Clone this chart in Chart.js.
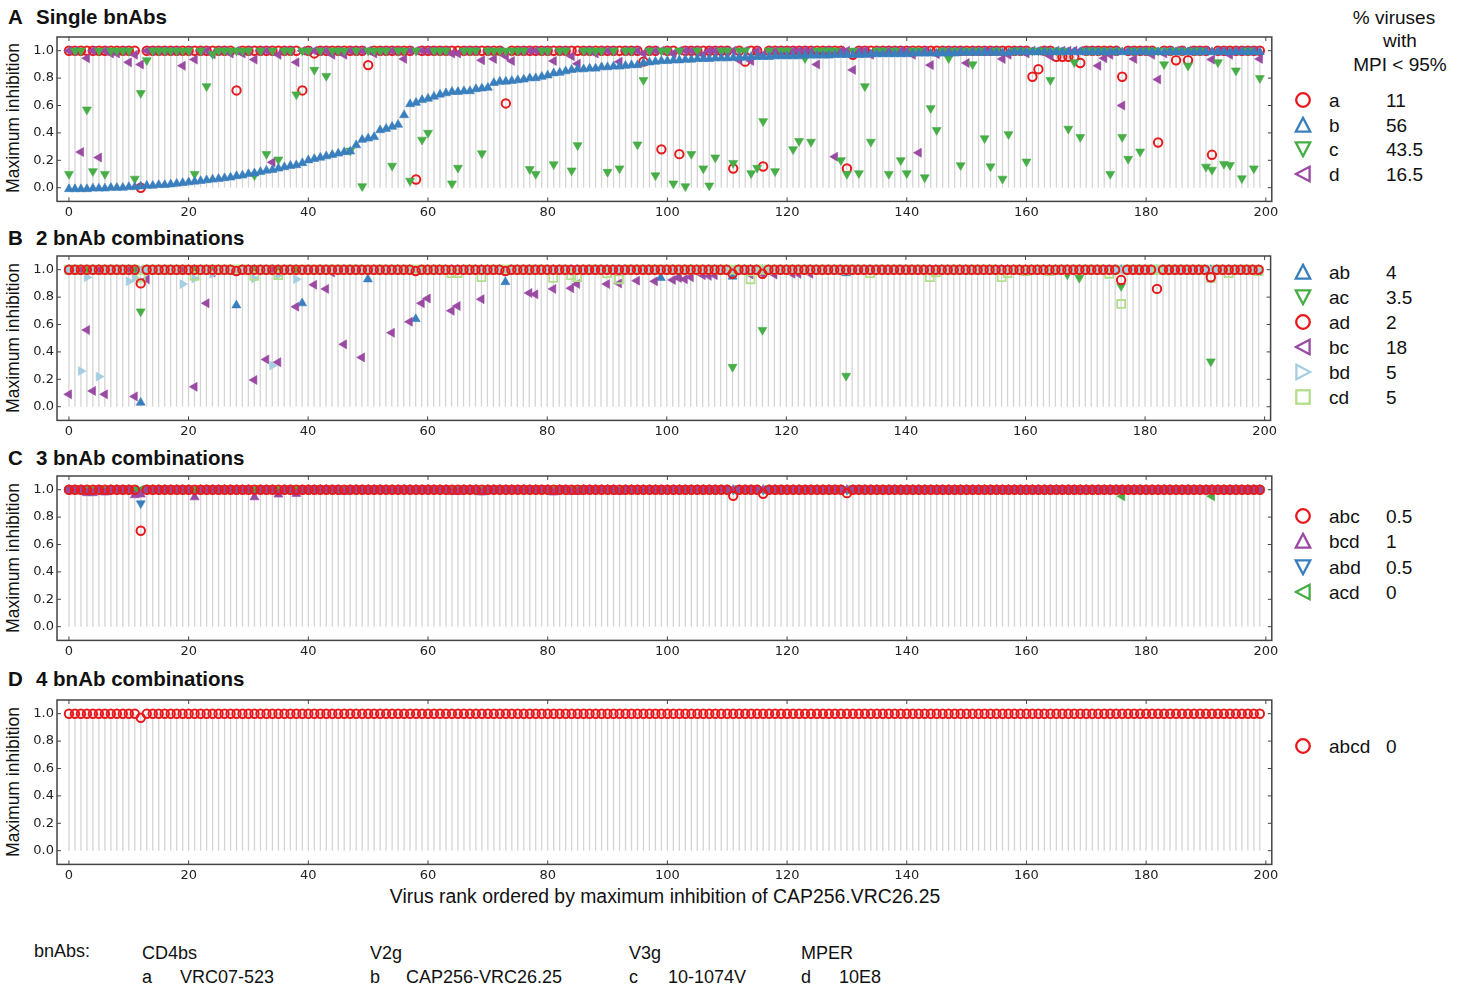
<!DOCTYPE html>
<html><head><meta charset="utf-8">
<script src="https://cdn.jsdelivr.net/npm/chart.js@4.4.1/dist/chart.umd.min.js"></script>
<style>
html,body{margin:0;padding:0;background:#fff;}
body{width:1465px;height:987px;position:relative;overflow:hidden;font-family:"Liberation Sans",Arial,sans-serif;color:#111;}
canvas{position:absolute;left:0;}
.t{position:absolute;white-space:nowrap;line-height:1;}
.ptitle{font-weight:bold;font-size:20.5px;transform:translateY(-50%);}
.ytitle{font-size:17.5px;transform:translate(-50%,-50%) rotate(-90deg);}
.leg{font-size:19px;transform:translateY(-50%);}
.foot{font-size:18px;transform:translateY(-50%);}
</style></head><body>
<div class="t ptitle" style="left:8px;top:17px">A</div><div class="t ptitle" style="left:36px;top:17px">Single bnAbs</div>
<div class="t ptitle" style="left:8px;top:238px">B</div><div class="t ptitle" style="left:36px;top:238px">2 bnAb combinations</div>
<div class="t ptitle" style="left:8px;top:458px">C</div><div class="t ptitle" style="left:36px;top:458px">3 bnAb combinations</div>
<div class="t ptitle" style="left:8px;top:679px">D</div><div class="t ptitle" style="left:36px;top:679px">4 bnAb combinations</div>
<div class="t ytitle" style="left:14px;top:118px">Maximum inhibition</div>
<div class="t ytitle" style="left:14px;top:338px">Maximum inhibition</div>
<div class="t ytitle" style="left:14px;top:558px">Maximum inhibition</div>
<div class="t ytitle" style="left:14px;top:782px">Maximum inhibition</div>
<div class="t leg" style="left:1394px;top:17px;transform:translate(-50%,-50%)">% viruses</div>
<div class="t leg" style="left:1400px;top:40px;transform:translate(-50%,-50%)">with</div>
<div class="t leg" style="left:1400px;top:64px;transform:translate(-50%,-50%)">MPI &lt; 95%</div>
<div class="t leg" style="left:665px;top:897px;transform:translate(-50%,-50%);font-size:19.4px">Virus rank ordered by maximum inhibition of CAP256.VRC26.25</div>
<div class="t foot" style="left:34px;top:951px">bnAbs:</div>
<div class="t foot" style="left:142px;top:953px">CD4bs</div>
<div class="t foot" style="left:370px;top:953px">V2g</div>
<div class="t foot" style="left:629px;top:953px">V3g</div>
<div class="t foot" style="left:801px;top:953px">MPER</div>
<div class="t foot" style="left:142px;top:977px">a</div><div class="t foot" style="left:180px;top:977px">VRC07-523</div>
<div class="t foot" style="left:370px;top:977px">b</div><div class="t foot" style="left:406px;top:977px">CAP256-VRC26.25</div>
<div class="t foot" style="left:629px;top:977px">c</div><div class="t foot" style="left:668px;top:977px">10-1074V</div>
<div class="t foot" style="left:801px;top:977px">d</div><div class="t foot" style="left:839px;top:977px">10E8</div>
<canvas id="cA" width="1278" height="200" style="top:29px"></canvas>
<canvas id="cB" width="1278" height="200" style="top:248.3px"></canvas>
<canvas id="cC" width="1278" height="200" style="top:468.3px"></canvas>
<canvas id="cD" width="1278" height="200" style="top:692.3px"></canvas>
<div id="legends"></div>
<script>
// ---------- DATA ----------
const ranks = Array.from({length:200},(_,i)=>i);   // virus rank (category axis)
const xTicks = [0,20,40,60,80,100,120,140,160,180,200];
const yTicks = [0,0.2,0.4,0.6,0.8,1.0];

// Panel A: single bnAbs
const A_a = [
1,1,1,1,1,1,1,1,1,1, 1,1,0,1,1,1,1,1,1,1,
1,1,1,1,1,1,1,1,0.71,1, 1,1,1,1,1,1,1,1,1,0.71,
1,0.98,1,1,1,1,1,1,1,1, 0.895,1,1,1,1,1,1,1,0.06,1,
1,1,1,1,1,1,1,1,1,1, 1,1,1,0.615,1,1,1,1,1,1,
1,1,1,1,1,1,1,1,1,1, 1,1,1,1,1,1,0.92,1,1,0.28,
1,1,0.245,1,1,1,1,1,1,1, 1,0.14,1,0.92,1,1,0.155,1,1,1,
1,1,1,1,1,1,1,1,1,1, 0.14,0.97,1,1,1,1,1,1,1,1,
1,1,1,1,1,1,1,1,1,1, 1,1,1,1,1,1,1,1,1,1,
1,0.81,0.865,1,1,0.955,0.955,0.955,0.955,0.91, 1,1,1,1,1,1,0.81,1,1,1,
1,1,0.33,1,1,0.93,1,0.93,1,1, 1,0.24,1,1,1,1,1,1,1,1];
const A_b = [
-0.01,-0.01,-0.01,-0.01,-0.005,-0.005,-0.005,0,0,0, 0.005,0.005,0.01,0.015,0.015,0.02,0.02,0.025,0.03,0.035,
0.04,0.045,0.05,0.055,0.06,0.065,0.07,0.075,0.085,0.09, 0.1,0.105,0.115,0.125,0.13,0.14,0.15,0.16,0.165,0.18,
0.2,0.21,0.22,0.23,0.24,0.25,0.26,0.265,0.31,0.35, 0.36,0.37,0.42,0.43,0.445,0.46,0.53,0.61,0.62,0.64,
0.65,0.665,0.68,0.69,0.7,0.7,0.705,0.705,0.72,0.725, 0.73,0.765,0.775,0.775,0.78,0.785,0.79,0.8,0.8,0.81,
0.82,0.835,0.84,0.85,0.86,0.865,0.865,0.87,0.87,0.88, 0.88,0.885,0.885,0.89,0.895,0.895,0.91,0.915,0.92,0.925,
0.925,0.93,0.93,0.935,0.935,0.94,0.94,0.94,0.945,0.945, 0.945,0.948,0.95,0.95,0.955,0.955,0.955,0.955,0.96,0.96,
0.96,0.96,0.96,0.965,0.965,0.965,0.965,0.965,0.97,0.97, 0.97,0.97,0.97,0.97,0.975,0.975,0.975,0.975,0.975,0.975,
0.975,0.98,0.98,0.98,0.98,0.98,0.98,0.98,0.98,0.985, 0.985,0.985,0.985,0.985,0.985,0.985,0.985,0.985,0.99,0.99,
0.99,0.99,0.99,0.99,0.99,0.99,0.99,0.99,0.99,0.99, 0.99,0.99,0.99,0.99,0.99,0.99,0.99,0.99,0.99,0.99,
0.99,0.99,0.99,0.99,0.99,0.99,0.99,0.99,0.99,0.99, 0.99,0.99,0.99,0.99,0.99,0.99,0.99,0.99,0.99,0.99];
const A_c = [
0.1,1,1,0.57,0.12,1,0.1,1,1,1, 1,0.065,0.69,0.93,1,1,1,1,1,1,
1,0.1,1,0.74,0.975,1,1,1,1,1, 1,0.09,1,0.245,1,0.205,1,1,0.68,1,
1,0.86,1,0.815,1,1,1,0.27,1,0.01, 1,1,1,1,0.16,1,1,0.05,1,0.35,
0.4,1,1,1,0.03,0.145,1,1,1,0.25, 1,1,1,1,1,1,1,0.135,0.1,1,
1,0.17,1,1,0.125,0.31,1,1,1,1, 0.115,1,0.14,1,1,0.315,0.785,1,0.09,1,
1,0.03,1,0.01,0.245,1,0.14,0.015,0.22,1, 1,0.18,1,1,0.105,0.145,0.485,1,0.12,1,
1,0.28,0.34,0.945,0.335,1,1,1,1,0.2, 0.1,1,0.105,0.74,0.335,1,1,0.1,1,0.2,
0.105,1,1,0.075,0.58,0.42,1,0.945,1,0.163, 1,0.9,1,0.36,0.155,1,0.065,0.39,1,1,
0.19,1,1,1,0.785,1,1,0.43,0.915,0.37, 1,1,1,1,0.1,1,0.37,0.21,1,0.263,
1,1,1,0.9,1,1,1,0.89,1,1, 0.153,0.13,0.915,0.173,0.165,0.855,0.068,1,0.14,0.8];
const A_d = [
1,1,0.26,0.945,1,0.22,1,0.98,0.98,1, 0.915,0.97,0.9,1,1,1,1,1,1,0.89,
1,0.935,1,1,0.975,1,1,0.98,1,0.98, 1,0.935,1,1,0.185,0.97,1,1,0.915,1,
1,1,1,1,0.97,1,0.97,1,1,1, 1,0.98,1,1,1,1,0.94,1,1,1,
1,1,1,1,0.98,0.98,1,1,1,0.93, 1,0.94,1,0.96,0.925,1,1,1,1,1,
1,0.925,1,1,0.96,0.905,1,1,0.98,1, 1,1,0.92,1,1,1,0.98,1,1,1,
1,0.98,1,1,1,1,0.97,1,1,1, 1,1,0.93,1,0.925,1,0.97,1,1,1,
1,1,1,1,1,0.9,1,1,0.226,1, 1,0.86,1,1,0.97,1,1,1,1,1,
1,0.97,0.255,1,0.895,0.975,1,1,1,1, 0.91,1,1,1,1,1,0.94,0.97,1,1,
0.98,1,1,1,0.96,1,1,1,1,1, 1,1,0.89,0.945,0.97,1,0.6,1,0.94,1,
1,0.97,0.79,0.98,1,1,1,1,1,1, 1,0.935,1,1,0.97,1,1,1,1,0.94];

// Panel B: 2 bnAb combinations
const B_ab = [
1,1,1,1,1,1,1,1,1,1, 1,1,0.03,1,1,1,1,1,1,1,
1,1,1,1,1,1,1,1,0.74,1, 1,1,1,1,1,1,1,1,1,0.755,
1,0.99,1,1,1,1,1,1,1,1, 0.93,1,1,1,1,1,1,1,0.64,1,
1,1,1,1,1,1,1,1,1,1, 1,1,1,0.91,1,1,1,1,1,1,
1,1,1,1,1,1,1,1,1,1, 1,1,1,1,1,1,1,1,1,0.94,
1,1,0.945,1,1,1,1,1,1,1, 1,0.95,1,1,1,1,1,1,1,1,
1,1,1,1,1,1,1,1,1,1, 0.975,1,1,1,1,1,1,1,1,1,
1,1,1,1,1,1,1,1,1,1, 1,1,1,1,1,1,1,1,1,1,
1,1,1,1,1,1,1,1,1,1, 1,1,1,1,1,1,1,1,1,1,
1,1,1,1,1,1,1,1,1,1, 1,1,1,1,1,1,1,1,1,1];
const B_ac = [
1,1,1,1,1,1,1,1,1,1, 1,1,0.695,1,1,1,1,1,1,1,
1,1,1,1,1,1,1,1,1,1, 1,1,1,1,1,1,1,1,1,1,
1,1,1,1,1,1,1,1,1,1, 1,1,1,1,1,1,1,1,1,1,
1,1,1,1,1,1,1,1,1,1, 1,1,1,1,1,1,1,1,1,1,
1,1,1,1,1,1,1,1,1,1, 1,1,1,1,1,1,1,1,1,1,
1,1,1,1,1,1,1,1,1,1, 1,0.29,1,1,1,1,0.56,1,1,1,
1,1,1,1,1,1,1,1,1,1, 0.225,1,1,1,1,1,1,1,1,1,
1,1,1,1,1,1,1,1,1,1, 1,1,1,1,1,1,1,1,1,1,
1,1,1,1,1,1,1,0.965,1,0.94, 1,1,1,1,1,1,0.88,1,1,1,
1,1,1,1,1,1,1,1,1,1, 1,0.33,1,1,1,1,1,1,1,1];
const B_ad = [
1,1,1,1,1,1,1,1,1,1, 1,1,0.9,1,1,1,1,1,1,1,
1,1,1,1,1,1,1,1,0.99,1, 1,1,1,1,1,1,1,1,1,1,
1,1,1,1,1,1,1,1,1,1, 1,1,1,1,1,1,1,1,0.99,1,
1,1,1,1,1,1,1,1,1,1, 1,1,1,0.99,1,1,1,1,1,1,
1,1,1,1,1,1,1,1,1,1, 1,1,1,1,1,1,1,1,1,1,
1,1,1,1,1,1,1,1,1,1, 1,0.97,1,1,1,1,0.97,1,1,1,
1,1,1,1,1,1,1,1,1,1, 1,1,1,1,1,1,1,1,1,1,
1,1,1,1,1,1,1,1,1,1, 1,1,1,1,1,1,1,1,1,1,
1,1,1,1,1,1,1,1,1,1, 1,1,1,1,1,1,0.925,1,1,1,
1,1,0.86,1,1,1,1,1,1,1, 1,0.945,1,1,1,1,1,1,1,1];
const B_bc = [
0.09,1,1,0.56,0.115,1,0.09,1,1,1, 1,0.075,1,0.93,1,1,1,1,1,1,
1,0.145,1,0.755,0.98,1,1,1,1,1, 1,0.195,1,0.345,1,0.325,1,1,0.73,1,
1,0.89,1,0.86,0.98,1,0.455,1,1,0.36, 1,1,1,1,0.54,1,1,0.62,1,0.755,
0.79,1,1,1,0.7,0.735,1,1,1,0.785, 1,1,1,1,1,1,1,0.83,0.82,1,
1,0.86,1,1,0.865,0.895,1,1,1,1, 0.895,1,0.9,1,1,0.92,1,1,0.915,1,
1,0.925,0.94,0.93,0.945,1,0.96,0.955,0.96,1, 1,1,1,1,0.965,1,0.97,1,0.965,1,
1,0.97,0.97,1,0.97,1,1,1,1,1, 1,1,1,1,1,1,1,1,1,1,
1,1,1,1,1,1,1,1,1,1, 1,1,1,1,1,1,1,1,1,1,
1,1,1,1,1,1,1,1,1,1, 1,1,1,1,1,1,1,1,1,1,
1,1,1,1,1,1,1,1,1,1, 1,1,1,1,1,1,1,1,1,1];
const B_bd = [
1,1,0.26,0.945,1,0.22,1,1,1,1, 0.915,0.94,1,1,1,1,1,1,1,0.895,
1,0.935,1,1,0.97,1,1,1,1,1, 1,0.935,1,1,0.3,0.96,1,1,0.93,1,
1,1,1,1,1,1,1,1,1,1, 1,1,1,1,1,1,1,1,1,1,
1,1,1,1,1,1,1,1,1,1, 1,1,1,1,1,1,1,1,1,1,
1,1,1,1,1,1,1,1,1,1, 1,1,1,1,1,1,1,1,1,1,
1,1,1,1,1,1,1,1,1,1, 1,1,1,1,1,1,1,1,1,1,
1,1,1,1,1,1,1,1,1,1, 1,1,1,1,1,1,1,1,1,1,
1,1,1,1,1,1,1,1,1,1, 1,1,1,1,1,1,1,1,1,1,
1,1,1,1,1,1,1,1,1,1, 1,1,1,1,1,1,1,1,1,1,
1,1,1,1,1,1,1,1,1,1, 1,1,1,1,1,1,1,1,1,1];
const B_cd = [
1,1,1,1,1,1,1,1,1,1, 1,1,0.94,1,1,1,1,1,1,1,
1,0.955,1,1,1,1,1,1,1,1, 1,0.955,1,1,1,0.96,1,1,1,1,
1,1,1,1,1,1,1,1,1,1, 1,1,1,1,1,1,1,1,1,1,
1,1,1,1,0.975,0.975,1,1,1,0.945, 1,1,1,1,1,1,1,1,1,1,
1,0.94,1,1,0.96,0.945,1,1,1,1, 0.975,1,0.93,1,1,1,1,1,1,1,
1,1,1,1,1,1,1,1,1,1, 1,1,1,1,0.93,1,1,1,1,1,
1,1,1,1,1,1,1,1,1,1, 1,1,1,1,0.975,1,1,1,1,1,
1,1,1,1,0.945,0.98,1,1,1,1, 1,1,1,1,1,1,0.945,0.975,1,1,
0.99,1,1,1,0.99,1,1,1,1,1, 1,1,1,1,0.97,1,0.75,1,1,1,
1,1,1,1,1,1,1,1,1,1, 1,0.94,1,1,0.975,1,1,1,1,0.99];

// Panel C: 3 bnAb combinations
const C_abc = [
1,1,1,1,1,1,1,1,1,1, 1,1,0.7,1,1,1,1,1,1,1,
1,1,1,1,1,1,1,1,1,1, 1,1,1,1,1,1,1,1,1,1,
1,1,1,1,1,1,1,1,1,1, 1,1,1,1,1,1,1,1,1,1,
1,1,1,1,1,1,1,1,1,1, 1,1,1,1,1,1,1,1,1,1,
1,1,1,1,1,1,1,1,1,1, 1,1,1,1,1,1,1,1,1,1,
1,1,1,1,1,1,1,1,1,1, 1,0.955,1,1,1,1,0.97,1,1,1,
1,1,1,1,1,1,1,1,1,1, 0.975,1,1,1,1,1,1,1,1,1,
1,1,1,1,1,1,1,1,1,1, 1,1,1,1,1,1,1,1,1,1,
1,1,1,1,1,1,1,1,1,1, 1,1,1,1,1,1,1,1,1,1,
1,1,1,1,1,1,1,1,1,1, 1,1,1,1,1,1,1,1,1,1];
const C_bcd = [
1,1,1,0.975,0.975,1,0.98,1,1,1, 1,0.96,0.965,1,1,1,1,1,1,1,
1,0.945,1,1,1,1,1,1,1,1, 1,0.945,1,1,1,0.965,1,1,0.97,1,
1,1,1,1,1,1,0.985,1,1,1, 1,1,1,1,1,1,1,1,1,1,
1,1,1,1,0.985,0.985,1,1,1,0.98, 1,1,1,1,1,1,1,1,1,1,
1,0.98,1,1,0.985,0.985,1,1,1,1, 1,1,0.985,1,1,1,1,1,1,1,
1,1,1,1,1,1,1,1,1,1, 1,1,1,1,1,1,1,1,1,1,
1,1,1,1,1,1,1,1,1,1, 1,1,1,1,1,1,1,1,1,1,
1,1,1,1,1,1,1,1,1,1, 1,1,1,1,1,1,1,1,1,1,
1,1,1,1,1,1,1,1,1,1, 1,1,1,1,1,1,1,1,1,1,
1,1,1,1,1,1,1,1,1,1, 1,1,1,1,1,1,1,1,1,1];
const C_abd = [
1,1,1,1,1,1,1,1,1,1, 1,1,0.9,1,1,1,1,1,1,1,
1,1,1,1,1,1,1,1,1,1, 1,1,1,1,1,1,1,1,1,1,
1,1,1,1,1,1,1,1,1,1, 1,1,1,1,1,1,1,1,1,1,
1,1,1,1,1,1,1,1,1,1, 1,1,1,1,1,1,1,1,1,1,
1,1,1,1,1,1,1,1,1,1, 1,1,1,1,1,1,1,1,1,1,
1,1,1,1,1,1,1,1,1,1, 1,1,1,1,1,1,1,1,1,1,
1,1,1,1,1,1,1,1,1,1, 1,1,1,1,1,1,1,1,1,1,
1,1,1,1,1,1,1,1,1,1, 1,1,1,1,1,1,1,1,1,1,
1,1,1,1,1,1,1,1,1,1, 1,1,1,1,1,1,1,1,1,1,
1,1,1,1,1,1,1,1,1,1, 1,1,1,1,1,1,1,1,1,1];
const C_acd = [
1,1,1,1,1,1,1,1,1,1, 1,1,1,1,1,1,1,1,1,1,
1,1,1,1,1,1,1,1,1,1, 1,1,1,1,1,1,1,1,1,1,
1,1,1,1,1,1,1,1,1,1, 1,1,1,1,1,1,1,1,1,1,
1,1,1,1,1,1,1,1,1,1, 1,1,1,1,1,1,1,1,1,1,
1,1,1,1,1,1,1,1,1,1, 1,1,1,1,1,1,1,1,1,1,
1,1,1,1,1,1,1,1,1,1, 1,1,1,1,1,1,1,1,1,1,
1,1,1,1,1,1,1,1,1,1, 1,1,1,1,1,1,1,1,1,1,
1,1,1,1,1,1,1,1,1,1, 1,1,1,1,1,1,1,1,1,1,
1,1,1,1,1,1,1,1,1,1, 1,1,1,1,1,1,0.952,1,1,1,
1,1,1,1,1,1,1,1,1,1, 1,0.952,1,1,1,1,1,1,1,1];

// Panel D: 4 bnAb combination
const D_abcd = [
1,1,1,1,1,1,1,1,1,1, 1,1,0.97,1,1,1,1,1,1,1,
1,1,1,1,1,1,1,1,1,1, 1,1,1,1,1,1,1,1,1,1,
1,1,1,1,1,1,1,1,1,1, 1,1,1,1,1,1,1,1,1,1,
1,1,1,1,1,1,1,1,1,1, 1,1,1,1,1,1,1,1,1,1,
1,1,1,1,1,1,1,1,1,1, 1,1,1,1,1,1,1,1,1,1,
1,1,1,1,1,1,1,1,1,1, 1,1,1,1,1,1,1,1,1,1,
1,1,1,1,1,1,1,1,1,1, 1,1,1,1,1,1,1,1,1,1,
1,1,1,1,1,1,1,1,1,1, 1,1,1,1,1,1,1,1,1,1,
1,1,1,1,1,1,1,1,1,1, 1,1,1,1,1,1,1,1,1,1,
1,1,1,1,1,1,1,1,1,1, 1,1,1,1,1,1,1,1,1,1];

// legend labels and "% viruses with MPI < 95%" values
const legA_labels = ['a','b','c','d'];          const legA_pct = ['11','56','43.5','16.5'];
const legB_labels = ['ab','ac','ad','bc','bd','cd']; const legB_pct = ['4','3.5','2','18','5','5'];
const legC_labels = ['abc','bcd','abd','acd'];  const legC_pct = ['0.5','1','0.5','0'];
const legD_labels = ['abcd'];                   const legD_pct = ['0'];

// ---------- STYLE ----------
const COL = {red:'#e8191c', blue:'#3a7fbd', green:'#47ad46', purple:'#9a4aa3', lblue:'#a6cee3', lgreen:'#b2df8a'};
const TR = 5.2;
const SHAPES = {
  circle:(c)=>({pointStyle:'circle',pointRadius:4.2,pointBorderWidth:2,pointBorderColor:c,pointBackgroundColor:'rgba(255,255,255,0)'}),
  up:(c)=>({pointStyle:'triangle',pointRotation:0,pointRadius:TR,pointBorderWidth:0.6,pointBorderColor:c,pointBackgroundColor:c}),
  down:(c)=>({pointStyle:'triangle',pointRotation:180,pointRadius:TR,pointBorderWidth:0.6,pointBorderColor:c,pointBackgroundColor:c}),
  left:(c)=>({pointStyle:'triangle',pointRotation:-90,pointRadius:TR,pointBorderWidth:0.6,pointBorderColor:c,pointBackgroundColor:c}),
  right:(c)=>({pointStyle:'triangle',pointRotation:90,pointRadius:TR,pointBorderWidth:0.6,pointBorderColor:c,pointBackgroundColor:c}),
  square:(c)=>({pointStyle:'rect',pointRadius:5.6,pointBorderWidth:1.8,pointBorderColor:c,pointBackgroundColor:'rgba(255,255,255,0)'})
};
function ds(label, arr, shape, color, order){
  return Object.assign({label, order, showLine:false, data: ranks.map((r,i)=>({x:r,y:arr[i]}))}, SHAPES[shape](color));
}

const decor = {
  id:'decor',
  beforeDatasetsDraw(chart){
    const {ctx, scales:{x,y}} = chart;
    const y0=y.getPixelForValue(0), y1=y.getPixelForValue(1);
    ctx.save(); ctx.strokeStyle='#d4d4d4'; ctx.lineWidth=1.3;
    ranks.forEach(r=>{const px=x.getPixelForValue(r); ctx.beginPath(); ctx.moveTo(px,y0); ctx.lineTo(px,y1); ctx.stroke();});
    ctx.restore();
  },
  afterDatasetsDraw(chart){
    const {ctx, chartArea:a, scales:{x,y}} = chart;
    ctx.save(); ctx.strokeStyle='#444'; ctx.lineWidth=1.5;
    ctx.strokeRect(a.left,a.top,a.right-a.left,a.bottom-a.top);
    ctx.lineWidth=1;
    const L=4;
    xTicks.forEach(v=>{const p=x.getPixelForValue(v); ctx.beginPath(); ctx.moveTo(p,a.bottom); ctx.lineTo(p,a.bottom-L); ctx.moveTo(p,a.top); ctx.lineTo(p,a.top+L); ctx.stroke();});
    yTicks.forEach(v=>{const p=y.getPixelForValue(v); ctx.beginPath(); ctx.moveTo(a.left,p); ctx.lineTo(a.left+L,p); ctx.moveTo(a.right,p); ctx.lineTo(a.right-L,p); ctx.stroke();});
    ctx.restore();
  }
};

const tickFont = {family:'"DejaVu Sans", sans-serif', size:13};
function makeChart(id, datasets){
  return new Chart(document.getElementById(id), {
    type:'scatter',
    data:{datasets},
    plugins:[decor],
    options:{
      responsive:false, animation:false, events:[],
      layout:{padding:{top:8,right:1,left:0,bottom:0}},
      plugins:{legend:{display:false},tooltip:{enabled:false}},
      scales:{
        x:{type:'linear',min:-2,max:201,grid:{display:false,drawTicks:false},border:{display:false},
           ticks:{font:tickFont,color:'#222',padding:3,maxRotation:0,autoSkip:false},
           afterBuildTicks:s=>{s.ticks=xTicks.map(v=>({value:v}));},
           afterFit:s=>{s.height=27.6; s.paddingLeft=0; s.paddingRight=0;}},
        y:{type:'linear',min:-0.1,max:1.1,grid:{display:false,drawTicks:false},border:{display:false},
           ticks:{font:tickFont,color:'#222',padding:3,callback:v=>Number(v).toFixed(1)},
           afterBuildTicks:s=>{s.ticks=yTicks.map(v=>({value:v}));},
           afterFit:s=>{s.width=57; s.paddingTop=0; s.paddingBottom=0;}}
      }
    }
  });
}

makeChart('cA',[
  ds('a',A_a,'circle',COL.red,4),
  ds('d',A_d,'left',COL.purple,3),
  ds('c',A_c,'down',COL.green,2),
  ds('b',A_b,'up',COL.blue,1)
]);
makeChart('cB',[
  ds('ab',B_ab,'up',COL.blue,6),
  ds('ac',B_ac,'down',COL.green,5),
  ds('bc',B_bc,'left',COL.purple,4),
  ds('bd',B_bd,'right',COL.lblue,3),
  ds('cd',B_cd,'square',COL.lgreen,2),
  ds('ad',B_ad,'circle',COL.red,1)
]);
makeChart('cC',[
  ds('abd',C_abd,'down',COL.blue,4),
  ds('acd',C_acd,'left',COL.green,3),
  ds('bcd',C_bcd,'up',COL.purple,2),
  ds('abc',C_abc,'circle',COL.red,1)
]);
makeChart('cD',[
  ds('abcd',D_abcd,'circle',COL.red,1)
]);

// ---------- LEGENDS ----------
function svgShape(shape,c){
  const sw=2.3; let inner='';
  if(shape==='circle') inner=`<circle cx="9" cy="9" r="6.8" fill="none" stroke="${c}" stroke-width="${sw}"/>`;
  if(shape==='up') inner=`<polygon points="9,1.8 16.2,15.6 1.8,15.6" fill="none" stroke="${c}" stroke-width="${sw}" stroke-linejoin="miter"/>`;
  if(shape==='down') inner=`<polygon points="1.8,2.4 16.2,2.4 9,16.2" fill="none" stroke="${c}" stroke-width="${sw}"/>`;
  if(shape==='left') inner=`<polygon points="1.8,9 15.6,1.8 15.6,16.2" fill="none" stroke="${c}" stroke-width="${sw}"/>`;
  if(shape==='right') inner=`<polygon points="2.4,1.8 16.2,9 2.4,16.2" fill="none" stroke="${c}" stroke-width="${sw}"/>`;
  if(shape==='square') inner=`<rect x="2.3" y="2.3" width="13.4" height="13.4" fill="none" stroke="${c}" stroke-width="${sw}"/>`;
  return `<svg width="18" height="18" viewBox="0 0 18 18" style="position:absolute;left:1294px;top:-9px">${inner}</svg>`;
}
const legends = [
  {labels:legA_labels,pct:legA_pct,shapes:['circle','up','down','left'],cols:[COL.red,COL.blue,COL.green,COL.purple],y0:100,dy:24.7},
  {labels:legB_labels,pct:legB_pct,shapes:['up','down','circle','left','right','square'],cols:[COL.blue,COL.green,COL.red,COL.purple,COL.lblue,COL.lgreen],y0:272,dy:25},
  {labels:legC_labels,pct:legC_pct,shapes:['circle','up','down','left'],cols:[COL.red,COL.purple,COL.blue,COL.green],y0:516,dy:25.3},
  {labels:legD_labels,pct:legD_pct,shapes:['circle'],cols:[COL.red],y0:746,dy:25}
];
let html='';
legends.forEach(L=>{
  L.labels.forEach((lab,i)=>{
    const y=L.y0+i*L.dy;
    html+=`<div style="position:absolute;left:0;top:${y}px;">${svgShape(L.shapes[i],L.cols[i])}</div>`;
    html+=`<div class="t leg" style="left:1329px;top:${y}px">${lab}</div>`;
    html+=`<div class="t leg" style="left:1386px;top:${y}px">${L.pct[i]}</div>`;
  });
});
document.getElementById('legends').innerHTML=html;

// sanity check of array lengths
[A_a,A_b,A_c,A_d,B_ab,B_ac,B_ad,B_bc,B_bd,B_cd,C_abc,C_bcd,C_abd,C_acd,D_abcd].forEach((a,k)=>{
  if(a.length!==200){const d=document.createElement('div');d.textContent='LEN ERR '+k+' '+a.length;d.style.cssText='position:absolute;left:600px;top:'+(10+k*14)+'px;color:red;font-size:12px';document.body.appendChild(d);}
});
</script>
</body></html>
